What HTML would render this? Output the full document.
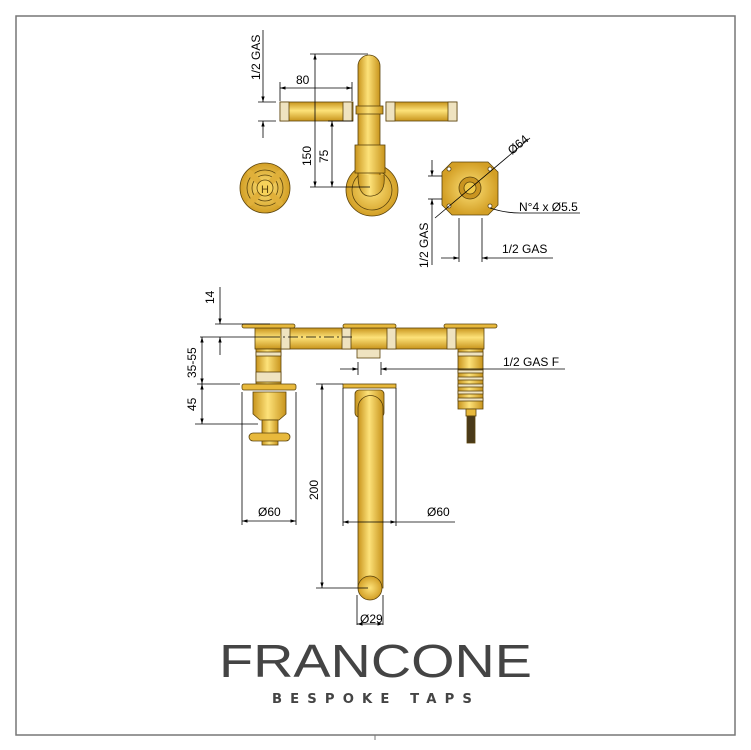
<!DOCTYPE html>
<html><head><meta charset="utf-8"><style>
html,body{margin:0;padding:0;background:#fff;}
svg{display:block;font-family:"Liberation Sans",sans-serif;}
</style></head><body>
<svg width="751" height="750" viewBox="0 0 751 750" xmlns="http://www.w3.org/2000/svg">
<defs>
<marker id="a" viewBox="0 0 10 10" refX="10" refY="5" markerWidth="7" markerHeight="7" orient="auto-start-reverse"><path d="M0,2 L10,5 L0,8z" fill="#000"/></marker>
<linearGradient id="gv" x1="0" y1="0" x2="1" y2="0"><stop offset="0" stop-color="#c8941c"/><stop offset="0.45" stop-color="#fde27a"/><stop offset="1" stop-color="#c8941c"/></linearGradient>
<linearGradient id="gh" x1="0" y1="0" x2="0" y2="1"><stop offset="0" stop-color="#c8941c"/><stop offset="0.45" stop-color="#fde27a"/><stop offset="1" stop-color="#c8941c"/></linearGradient>
<radialGradient id="gr"><stop offset="0" stop-color="#fde27a"/><stop offset="1" stop-color="#d39f25"/></radialGradient>
</defs>
<rect x="16" y="16" width="719" height="719" fill="none" stroke="#777" stroke-width="1.5"/>
<line x1="375" y1="735" x2="375" y2="740" stroke="#777"/>

<g stroke="#5a430c" stroke-width="0.8">
<rect x="280" y="102" width="73" height="19" fill="url(#gh)"/>
<rect x="280" y="102" width="9" height="19" fill="#efe3c0"/><rect x="343" y="102" width="9" height="19" fill="#efe3c0"/>
<rect x="386" y="102" width="71" height="19" fill="url(#gh)"/>
<rect x="386" y="102" width="9" height="19" fill="#efe3c0"/><rect x="448" y="102" width="9" height="19" fill="#efe3c0"/>
<circle cx="372" cy="190" r="26" fill="url(#gr)"/>
<circle cx="372" cy="190" r="20" fill="none"/>
<path d="M358,177 L358,66 A11,11 0 0 1 380,66 L380,177z" fill="url(#gv)"/>
<rect x="356" y="106" width="27" height="8" fill="url(#gv)"/>
<rect x="355" y="145" width="30" height="28" fill="url(#gv)"/>
<path d="M358,175 Q358,198 372,196 Q386,194 384,175" fill="url(#gv)"/>
<circle cx="265" cy="188" r="25" fill="url(#gr)"/>
<circle cx="265" cy="188" r="18" fill="none"/>
<circle cx="265" cy="188" r="13" fill="none"/>
<g stroke-width="6" stroke="#e0b03a" stroke-linecap="round"><line x1="250" y1="173" x2="280" y2="203"/><line x1="280" y1="173" x2="250" y2="203"/></g>
<circle cx="265" cy="188" r="8" fill="#f6d25a"/>
<text x="261" y="193" font-size="11" fill="#5a430c" stroke="none">H</text>
<path d="M452,162 L488,162 L498,172 L498,205 L488,215 L452,215 L442,205 L442,172z" fill="url(#gr)"/>
<circle cx="470" cy="188" r="11" fill="#c99420"/><circle cx="470" cy="188" r="6" fill="#f0c94a"/>
<circle cx="449" cy="169" r="2" fill="#fff"/><circle cx="490" cy="169" r="2" fill="#fff"/><circle cx="449" cy="206" r="2" fill="#fff"/><circle cx="490" cy="206" r="2" fill="#fff"/>

<rect x="255" y="328" width="229" height="21" fill="url(#gh)"/>
<rect x="281" y="328" width="9" height="21" fill="#efe3c0"/><rect x="342" y="328" width="9" height="21" fill="#efe3c0"/>
<rect x="387" y="328" width="9" height="21" fill="#efe3c0"/><rect x="447" y="328" width="9" height="21" fill="#efe3c0"/>
<rect x="242" y="324" width="53" height="4" rx="2" fill="#e8b93c"/>
<rect x="343" y="324" width="53" height="4" rx="2" fill="#e8b93c"/>
<rect x="444" y="324" width="53" height="4" rx="2" fill="#e8b93c"/>
<rect x="357" y="349" width="23" height="9" fill="#efe3c0"/>
<rect x="256" y="349" width="25" height="35" fill="url(#gv)"/>
<rect x="256" y="352" width="25" height="4" fill="#efe3c0"/><rect x="256" y="372" width="25" height="10" fill="#efe3c0"/>
<rect x="242" y="384" width="54" height="6" rx="2" fill="#e8b93c"/>
<path d="M253,392 L286,392 L286,414 L279,420 L260,420 L253,414z" fill="url(#gv)"/>
<rect x="262" y="420" width="16" height="25" fill="url(#gv)"/>
<rect x="249" y="433" width="41" height="8" rx="4" fill="#e8b93c"/>
<rect x="458" y="349" width="25" height="60" fill="url(#gv)"/>
<rect x="458" y="352" width="25" height="4" fill="#efe3c0"/>
<g fill="#efe3c0"><rect x="458" y="370" width="25" height="3"/><rect x="458" y="377" width="25" height="3"/><rect x="458" y="384" width="25" height="3"/><rect x="458" y="391" width="25" height="3"/><rect x="458" y="398" width="25" height="3"/></g>
<rect x="466" y="409" width="10" height="7" fill="#e8b93c"/>
<rect x="467" y="416" width="8" height="27" fill="#4a3a1a"/>
<rect x="343" y="384" width="53" height="4" fill="#e8b93c"/>
<rect x="355" y="390" width="29" height="27" rx="4" fill="url(#gv)"/>
<path d="M358,408 A12,12 0 0 1 383,408 L383,588 L358,588z" fill="url(#gv)"/>
<circle cx="370" cy="588" r="12" fill="url(#gr)"/>
</g>

<g stroke="#000" stroke-width="0.8" fill="none">
<line x1="263" y1="30" x2="263" y2="102" marker-end="url(#a)"/>
<line x1="263" y1="138" x2="263" y2="121" marker-end="url(#a)"/>
<line x1="258" y1="102" x2="276" y2="102"/><line x1="258" y1="121" x2="276" y2="121"/>
<line x1="280" y1="82" x2="280" y2="101"/><line x1="352" y1="82" x2="352" y2="101"/>
<line x1="280" y1="88" x2="352" y2="88" marker-start="url(#a)" marker-end="url(#a)"/>
<line x1="310" y1="54" x2="368" y2="54"/>
<line x1="315" y1="54" x2="315" y2="187" marker-start="url(#a)" marker-end="url(#a)"/>
<line x1="328" y1="121" x2="353" y2="121"/>
<line x1="332" y1="121" x2="332" y2="187" marker-start="url(#a)" marker-end="url(#a)"/>
<line x1="310" y1="187" x2="370" y2="187"/>
<line x1="435" y1="218" x2="530" y2="138"/>
<path d="M490,208 Q505,213 520,213 L580,213"/>
<line x1="432" y1="160" x2="432" y2="176" marker-end="url(#a)"/>
<line x1="432" y1="265" x2="432" y2="199" marker-end="url(#a)"/>
<line x1="428" y1="176" x2="442" y2="176"/><line x1="428" y1="199" x2="442" y2="199"/>
<line x1="459" y1="218" x2="459" y2="262"/><line x1="482" y1="218" x2="482" y2="262"/>
<line x1="441" y1="258" x2="459" y2="258" marker-end="url(#a)"/>
<line x1="553" y1="258" x2="482" y2="258" marker-end="url(#a)"/>

<line x1="220" y1="287" x2="220" y2="324" marker-end="url(#a)"/>
<line x1="220" y1="355" x2="220" y2="337" marker-end="url(#a)"/>
<line x1="215" y1="324" x2="270" y2="324"/>
<line x1="200" y1="337" x2="270" y2="337"/>
<line x1="270" y1="337" x2="355" y2="337" stroke-dasharray="10,3,2,3"/>
<line x1="202" y1="337" x2="202" y2="384" marker-start="url(#a)" marker-end="url(#a)"/>
<line x1="197" y1="384" x2="240" y2="384"/>
<line x1="202" y1="384" x2="202" y2="424" marker-start="url(#a)" marker-end="url(#a)"/>
<line x1="195" y1="424" x2="258" y2="424"/>
<line x1="242" y1="392" x2="242" y2="525"/><line x1="296" y1="392" x2="296" y2="525"/>
<line x1="242" y1="521" x2="296" y2="521" marker-start="url(#a)" marker-end="url(#a)"/>
<line x1="316" y1="384" x2="343" y2="384"/>
<line x1="322" y1="384" x2="322" y2="588" marker-start="url(#a)" marker-end="url(#a)"/>
<line x1="316" y1="588" x2="368" y2="588"/>
<line x1="343" y1="388" x2="343" y2="526"/><line x1="396" y1="388" x2="396" y2="526"/>
<line x1="343" y1="522" x2="396" y2="522" marker-start="url(#a)" marker-end="url(#a)"/>
<line x1="396" y1="522" x2="455" y2="522"/>
<line x1="358" y1="362" x2="358" y2="375"/><line x1="381" y1="362" x2="381" y2="375"/>
<line x1="340" y1="369" x2="358" y2="369" marker-end="url(#a)"/>
<line x1="565" y1="369" x2="381" y2="369" marker-end="url(#a)"/>
<line x1="357" y1="595" x2="357" y2="625"/><line x1="383" y1="595" x2="383" y2="625"/>
<line x1="357" y1="624" x2="383" y2="624" marker-start="url(#a)" marker-end="url(#a)"/>
</g>

<g font-size="12" fill="#000">
<text transform="translate(260,80) rotate(-90)">1/2 GAS</text>
<text x="296" y="84">80</text>
<text transform="translate(311,166) rotate(-90)">150</text>
<text transform="translate(328,163) rotate(-90)">75</text>
<text transform="translate(512,155) rotate(-40)">Ø64</text>
<text x="519" y="211">N°4 x Ø5.5</text>
<text transform="translate(428,268) rotate(-90)">1/2 GAS</text>
<text x="502" y="253">1/2 GAS</text>
<text transform="translate(214,304) rotate(-90)">14</text>
<text transform="translate(196,378) rotate(-90)">35-55</text>
<text transform="translate(196,411) rotate(-90)">45</text>
<text x="258" y="516">Ø60</text>
<text transform="translate(318,500) rotate(-90)">200</text>
<text x="427" y="516">Ø60</text>
<text x="503" y="366">1/2 GAS F</text>
<text x="360" y="623">Ø29</text>
</g>

<text x="219" y="677" font-size="46" fill="#444" textLength="313" lengthAdjust="spacingAndGlyphs" style="font-family:'Liberation Sans',sans-serif">FRANCONE</text>
<text x="272" y="703" font-size="13" font-weight="bold" fill="#444" textLength="208" lengthAdjust="spacingAndGlyphs" style="font-family:'DejaVu Sans',sans-serif;letter-spacing:8px">BESPOKE TAPS</text>
</svg>
</body></html>
